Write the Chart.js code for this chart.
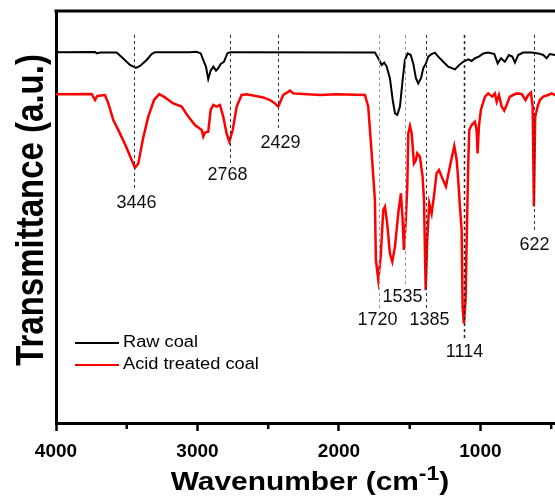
<!DOCTYPE html>
<html>
<head>
<meta charset="utf-8">
<script src="https://cdn.jsdelivr.net/npm/chart.js@4.4.0/dist/chart.umd.min.js"></script>
<style>
  html, body { margin: 0; padding: 0; background: #fff; overflow: hidden; }
  #ftir { display: block; }
</style>
</head>
<body>
<canvas id="ftir" width="555" height="496"></canvas>
<script>
// raw coal spectrum (wavenumber cm-1 / transmittance a.u.)
var rawWn = [4000, 3995, 3724, 3710, 3689, 3571, 3527, 3477, 3435, 3406, 3359, 3324, 3300, 3053, 3006, 2977, 2954, 2940, 2924, 2907, 2888, 2869, 2853, 2836, 2813, 2789, 2770,
  1746, 1722, 1698, 1680, 1663, 1640, 1620, 1604, 1588, 1569, 1550, 1534, 1514, 1493, 1475, 1456, 1440, 1420, 1404, 1385, 1369, 1345, 1322, 1298, 1263, 1228, 1180, 1150, 1122,
  1086, 1062, 1039, 1011, 980, 945, 902, 878, 855, 827, 799, 775, 756, 733, 698, 638, 592, 556, 532, 509, 474, 440, 400];
var rawT = [92.7, 92.7, 92.75, 92.4, 92.6, 92.6, 91.2, 89.5, 88.8, 89.25, 90.75, 92.25, 92.7, 92.7, 92.8, 92.4, 90.3, 89.1, 86.0, 88.1, 89.1, 88.1, 88.7, 89.75, 90.3, 92.4, 92.7,
  92.6, 91.2, 89.5, 90.1, 89.1, 86.2, 80.75, 77.4, 77.0, 79.1, 85.75, 90.75, 92.4, 92.0, 89.9, 86.2, 84.9, 86.2, 88.7, 89.9, 91.6, 92.25, 92.6, 91.6, 90.3, 89.1, 88.4, 89.5, 90.3,
  90.9, 90.5, 91.2, 91.6, 92.4, 92.6, 92.25, 89.9, 91.2, 90.3, 92.0, 91.6, 90.1, 92.0, 92.6, 92.6, 92.4, 92.0, 91.2, 92.25, 92.0, 92.3, 92.5];

// acid treated coal spectrum
var acidWn = [4000, 3995, 3748, 3724, 3708, 3654, 3630, 3595, 3548, 3505, 3465, 3442, 3418, 3387, 3348, 3307, 3270, 3230, 3171, 3112, 3065, 3018, 2970, 2959, 2947, 2924, 2907,
  2888, 2864, 2841, 2818, 2794, 2775, 2751, 2723, 2688, 2652, 2535, 2488, 2452, 2429, 2394, 2346, 2323, 2252, 2134, 2016, 1816, 1793, 1769, 1746, 1739, 1722, 1705, 1687, 1675,
  1659, 1640, 1623, 1604, 1581, 1562, 1550, 1541, 1529, 1517, 1510, 1498, 1486, 1470, 1456, 1447, 1428, 1409, 1399, 1387, 1376, 1362, 1345, 1329, 1310, 1293, 1274, 1244, 1216,
  1185, 1168, 1157, 1145, 1133, 1126, 1117, 1105, 1098, 1091, 1085, 1079, 1062, 1039, 1027, 1020, 1011, 997, 968, 945, 917, 898, 885, 869, 850, 832, 815, 792, 768, 744, 709, 681,
  662, 643, 631, 622, 613, 596, 580, 556, 521, 497, 474, 440, 400];
var acidT = [82.2, 82.2, 82.25, 80.75, 81.75, 82.0, 79.9, 75.75, 72.4, 69.1, 65.75, 63.8, 64.9, 70.75, 76.6, 80.75, 82.2, 81.4, 79.9, 79.1, 76.6, 74.5, 73.25, 71.6, 72.6, 72.8, 78.25,
  79.5, 79.1, 79.5, 76.6, 72.4, 70.3, 73.25, 79.1, 82.0, 82.2, 81.4, 80.75, 79.9, 79.1, 82.0, 83.1, 82.4, 82.25, 82.0, 82.2, 82.0, 79.1, 67.5, 55.75, 40.75, 35.75, 41.6, 53.25, 54.1,
  49.9, 42.4, 40.3, 44.1, 52.4, 57.4, 50.75, 43.25, 49.9, 59.1, 72.4, 74.25, 72.4, 64.9, 65.75, 67.4, 66.6, 61.6, 55.75, 33.25, 45.75, 54.9, 52.4, 56.6, 62.4, 63.25, 61.6, 59.1, 64.1,
  69.25, 65.75, 60.75, 54.1, 48.25, 29.1, 24.9, 30.75, 44.1, 56.6, 66.6, 73.25, 74.5, 75.3, 73.25, 67.4, 74.1, 78.25, 81.6, 82.4, 81.6, 82.4, 80.3, 82.0, 79.1, 78.1, 79.5, 81.6, 82.0, 82.4, 82.25, 80.75,
  82.0, 82.6, 79.1, 54.1, 76.6, 79.1, 80.75, 81.6, 82.0, 82.4, 82.0, 82.2, 82.0];

// marked bands and the height (a.u.) of their labels
var peaks = [3446, 2768, 2429, 1720, 1535, 1385, 1114, 622];
var peakLabelT = [55, 62, 70, 25.75, 31.5, 25.75, 17.75, 44.5];

var majorTicks = [4000, 3000, 2000, 1000];
var minorTicks = [3500, 2500, 1500, 500];

function pairs(xs, ys) {
    return xs.map(function (x, i) { return { x: x, y: ys[i] }; });
}

var FONT = '"Liberation Sans", Arial, sans-serif';

function stretchText(ctx, text, x, y, font, sx, align) {
    ctx.save();
    ctx.font = font;
    ctx.textAlign = align || 'left';
    ctx.textBaseline = 'middle';
    ctx.translate(x, y);
    ctx.scale(sx, 1);
    ctx.fillText(text, 0, 0);
    ctx.restore();
}

var decorations = {
    id: 'decorations',
    afterDatasetsDraw: function (chart) {
        var ctx = chart.ctx, area = chart.chartArea;
        var xs = chart.scales.x, ys = chart.scales.y;

        // top frame line
        ctx.save();
        ctx.strokeStyle = '#000';
        ctx.lineWidth = 3;
        ctx.beginPath();
        ctx.moveTo(area.left - 1.5, area.top);
        ctx.lineTo(area.right, area.top);
        ctx.stroke();

        // minor ticks
        ctx.lineWidth = 2.5;
        minorTicks.forEach(function (v) {
            var px = xs.getPixelForValue(v);
            ctx.beginPath();
            ctx.moveTo(px, area.bottom);
            ctx.lineTo(px, area.bottom + 6);
            ctx.stroke();
        });

        // dashed band markers + labels
        var lineColors = ['#333', '#333', '#333', '#999', '#999', '#333', '#222', '#333'];
        var labelShift = [2, -3, 2, -2, -3, 3, 0, 0];
        peaks.forEach(function (p, i) {
            var px = Math.round(xs.getPixelForValue(p)) + 0.5;
            var ly = ys.getPixelForValue(peakLabelT[i]);
            ctx.strokeStyle = lineColors[i];
            ctx.lineWidth = i === 6 ? 1.5 : 1;
            ctx.setLineDash([3, 3]);
            ctx.beginPath();
            ctx.moveTo(px, ys.getPixelForValue(97));
            ctx.lineTo(px, ly - 12);
            ctx.stroke();
            ctx.setLineDash([]);
            ctx.fillStyle = '#111';
            stretchText(ctx, String(p), px + labelShift[i], ly, '18px ' + FONT, 1, 'center');
        });

        // legend
        var ly0 = 343;
        chart.data.datasets.forEach(function (ds, i) {
            var y = ly0 + i * 22;
            ctx.strokeStyle = ds.borderColor;
            ctx.lineWidth = 2;
            ctx.beginPath();
            ctx.moveTo(75, y);
            ctx.lineTo(119, y);
            ctx.stroke();
            ctx.fillStyle = '#000';
            stretchText(ctx, ds.label, 123, y, '16px ' + FONT, 1.14, 'left');
        });

        // axis titles
        ctx.fillStyle = '#000';
        ctx.save();
        ctx.font = 'bold 33px ' + FONT;
        ctx.textAlign = 'center';
        ctx.textBaseline = 'alphabetic';
        ctx.translate(43, 210);
        ctx.scale(1.18, 1);
        ctx.rotate(-Math.PI / 2);
        ctx.fillText('Transmittance (a.u.)', 0, 0);
        ctx.restore();

        var sx = 1.15, base = 490;
        var mainFont = 'bold 26px ' + FONT, supFont = 'bold 20px ' + FONT;
        ctx.font = mainFont;
        var w1 = ctx.measureText('Wavenumber (cm').width;
        var w3 = ctx.measureText(')').width;
        ctx.font = supFont;
        var w2 = ctx.measureText('-1').width;
        var x0 = 310 - (w1 + w2 + w3) * sx / 2;
        ctx.save();
        ctx.translate(x0, 0);
        ctx.scale(sx, 1);
        ctx.textBaseline = 'alphabetic';
        ctx.textAlign = 'left';
        ctx.font = mainFont;
        ctx.fillText('Wavenumber (cm', 0, base);
        ctx.font = supFont;
        ctx.fillText('-1', w1, base - 10);
        ctx.font = mainFont;
        ctx.fillText(')', w1 + w2, base);
        ctx.restore();

        ctx.restore();
    }
};

var ctx = document.getElementById('ftir');
var chart = new Chart(ctx, {
    type: 'line',
    data: {
        datasets: [{
            label: 'Raw coal',
            data: pairs(rawWn, rawT),
            borderColor: '#000000',
            borderWidth: 2,
            pointRadius: 0,
            fill: false
        }, {
            label: 'Acid treated coal',
            data: pairs(acidWn, acidT),
            borderColor: '#ff0000',
            borderWidth: 2.5,
            pointRadius: 0,
            fill: false
        }]
    },
    options: {
        responsive: false,
        animation: false,
        devicePixelRatio: 1,
        layout: { padding: { top: 11, left: 0, right: 0, bottom: 0 } },
        plugins: {
            legend: { display: false },
            tooltip: { enabled: false }
        },
        scales: {
            x: {
                type: 'linear',
                reverse: true,
                min: 473,
                max: 4000,
                afterBuildTicks: function (scale) {
                    scale.ticks = majorTicks.map(function (v) { return { value: v }; });
                },
                afterFit: function (scale) { scale.height = 73; },
                ticks: {
                    color: '#000',
                    padding: 9,
                    maxRotation: 0,
                    font: { family: FONT, size: 19, weight: 'bold' },
                    callback: function (v) { return String(v); }
                },
                grid: {
                    drawOnChartArea: false,
                    drawTicks: true,
                    tickLength: 8,
                    tickWidth: 2.5,
                    tickColor: '#000'
                },
                border: { display: true, color: '#000', width: 3 }
            },
            y: {
                min: 0,
                max: 103,
                afterFit: function (scale) { scale.width = 56; },
                ticks: { display: false },
                grid: { display: false },
                border: { display: true, color: '#000', width: 3 }
            }
        }
    },
    plugins: [decorations]
});
</script>
</body>
</html>
